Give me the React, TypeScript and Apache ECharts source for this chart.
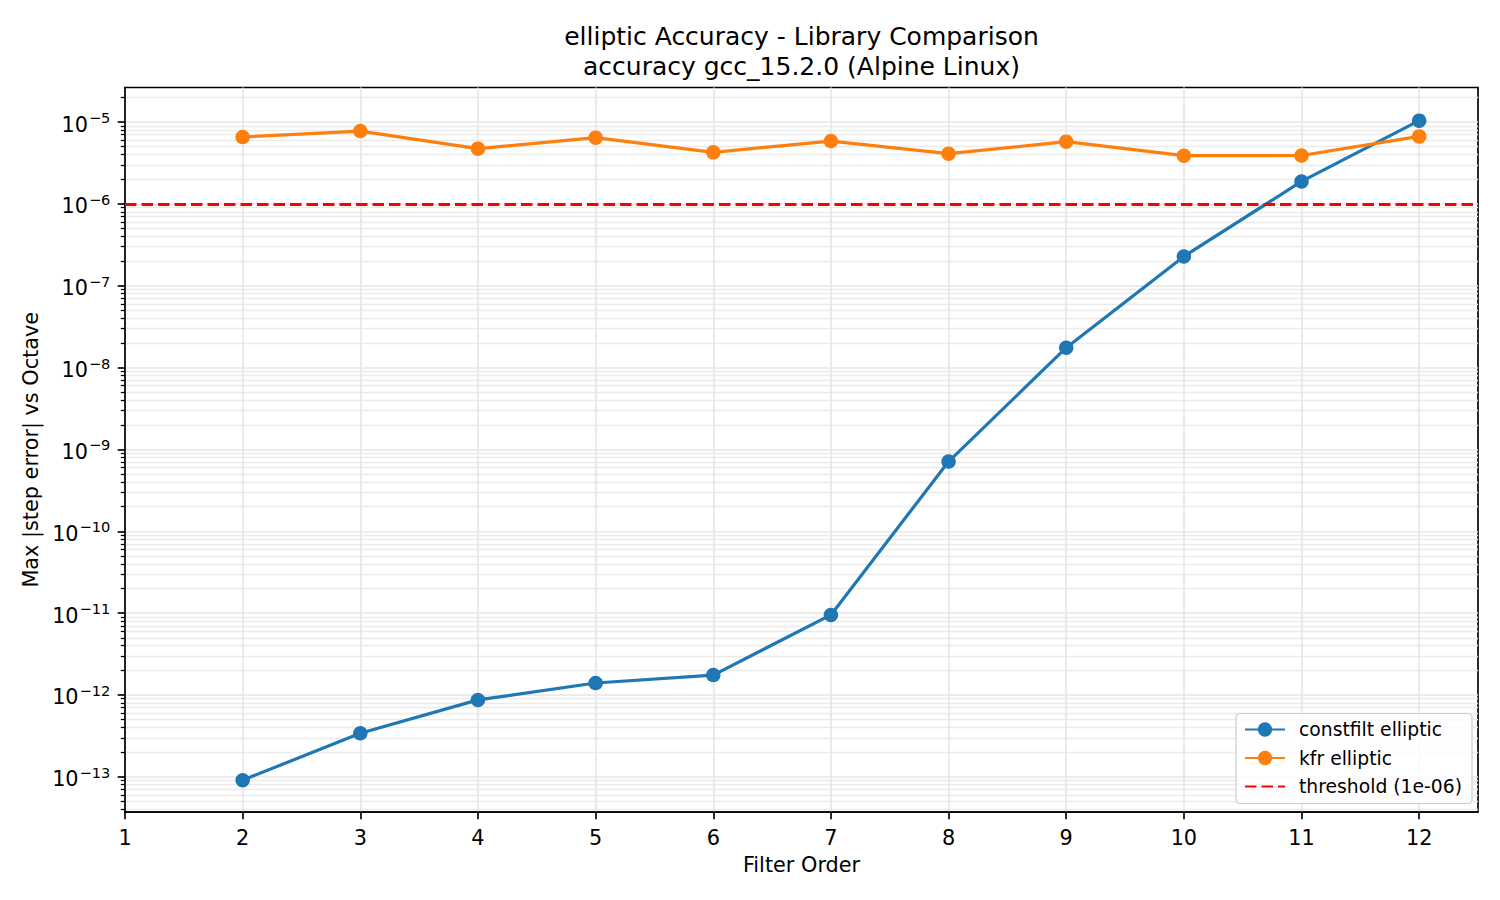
import React, { useEffect, useRef } from "react";
import * as echarts from "echarts";

// ---- data ----
const orders = [2, 3, 4, 5, 6, 7, 8, 9, 10, 11, 12];
const constfiltError = [
  9.1e-14, 3.4e-13, 8.7e-13, 1.4e-12, 1.75e-12, 9.5e-12, 7.1e-10, 1.75e-8,
  2.28e-7, 1.88e-6, 1.04e-5,
];
const kfrError = [
  6.56e-6, 7.76e-6, 4.73e-6, 6.45e-6, 4.26e-6, 5.86e-6, 4.11e-6, 5.76e-6,
  3.88e-6, 3.9e-6, 6.68e-6,
];
const threshold = 1e-6;

// ---- axis ticks ----
const xTicks = [1, 2, 3, 4, 5, 6, 7, 8, 9, 10, 11, 12];
const yDecades = [-13, -12, -11, -10, -9, -8, -7, -6, -5];
const minorDigits = [2, 3, 4, 5, 6, 7, 8, 9];
const minorDecades = [-14, -13, -12, -11, -10, -9, -8, -7, -6, -5];

const FONT = "DejaVu Sans";
const yMin = Math.pow(10, -13.43);
const yMax = Math.pow(10, -4.578);

const yMajor = yDecades.map((e) => Math.pow(10, e));
const yMinor: number[] = [];
minorDecades.forEach((e) =>
  minorDigits.forEach((d) => {
    const v = d * Math.pow(10, e);
    if (v > yMin && v < yMax) yMinor.push(v);
  })
);

const App: React.FC = () => {
  const chartRef = useRef<HTMLDivElement | null>(null);

  useEffect(() => {
    if (!chartRef.current) return;
    const chart = echarts.init(chartRef.current, undefined, { renderer: "svg" });

    const axisLine = { color: "#000000", width: 1.67 };
    const gridColor = "#e6e6e6";
    const dashed = { color: "#ff0000", width: 3.2, type: [11.5, 5] };

    const option: any = {
      animation: false,
      backgroundColor: "#ffffff",
      textStyle: { fontFamily: FONT },
      title: {
        text: "elliptic Accuracy - Library Comparison\naccuracy gcc_15.2.0 (Alpine Linux)",
        left: 801.5,
        top: 21,
        textAlign: "center",
        padding: 0,
        textStyle: {
          fontFamily: FONT,
          fontSize: 25,
          fontWeight: "normal",
          color: "#000000",
          lineHeight: 30,
        },
      },
      legend: {
        orient: "vertical",
        left: 1236,
        top: 713.5,
        padding: [6.5, 10, 7.5, 8],
        itemWidth: 40,
        itemHeight: 18,
        itemGap: 9.5,
        backgroundColor: "rgba(255,255,255,0.8)",
        borderColor: "#cccccc",
        borderWidth: 1.2,
        borderRadius: 4,
        textStyle: {
          fontFamily: FONT,
          fontSize: 18.75,
          color: "#000000",
          padding: [0, 0, 0, 9],
        },
        data: [
          { name: "constfilt elliptic" },
          { name: "kfr elliptic" },
          { name: "threshold (1e-06)", itemStyle: { opacity: 0 } },
        ],
      },
      grid: {
        left: 125,
        right: 22,
        top: 87.5,
        bottom: 88,
        show: true,
        borderColor: "#000000",
        borderWidth: 1.67,
        containLabel: false,
        outerBoundsMode: "none",
      },
      xAxis: {
        type: "value",
        min: 1,
        max: 12.5,
        interval: 1,
        name: "Filter Order",
        nameLocation: "middle",
        nameGap: 42.5,
        nameTextStyle: { fontFamily: FONT, fontSize: 20.8, color: "#000000" },
        axisLine: { onZero: false, lineStyle: axisLine },
        axisTick: { customValues: xTicks, length: 7.3, lineStyle: axisLine },
        axisLabel: {
          customValues: xTicks,
          margin: 15.5,
          fontFamily: FONT,
          fontSize: 20.8,
          color: "#000000",
        },
        splitLine: { show: true, lineStyle: { color: gridColor, width: 1.67 } },
      },
      yAxis: [
        {
          type: "log",
          logBase: 10,
          min: yMin,
          max: yMax,
          position: "left",
          name: "Max |step error| vs Octave",
          nameLocation: "middle",
          nameGap: 78.5,
          nameTextStyle: { fontFamily: FONT, fontSize: 20.8, color: "#000000" },
          axisLine: { show: true, onZero: false, lineStyle: axisLine },
          axisTick: { customValues: yMajor, length: 7.3, lineStyle: axisLine },
          axisLabel: {
            customValues: yMajor,
            margin: 14.6,
            formatter: (v: number) => {
              const e = Math.round(Math.log10(v));
              return `{b|10}{e|\u2212${-e}}`;
            },
            rich: {
              b: {
                fontFamily: FONT,
                fontSize: 20.8,
                color: "#000000",
                lineHeight: 26,
                verticalAlign: "bottom",
              },
              e: {
                fontFamily: FONT,
                fontSize: 14.6,
                color: "#000000",
                lineHeight: 16,
                verticalAlign: "top",
                padding: [1, 0, 0, 1],
              },
            },
          },
          splitLine: { show: true, lineStyle: { color: gridColor, width: 1.67 } },
        },
        {
          type: "log",
          logBase: 10,
          min: yMin,
          max: yMax,
          position: "left",
          axisLine: { show: false },
          axisLabel: { show: false },
          axisTick: {
            customValues: yMinor,
            length: 4.2,
            lineStyle: { color: "#000000", width: 1.25 },
          },
          splitLine: { show: true, lineStyle: { color: "#ebebeb", width: 1.4 } },
        },
      ],
      series: [
        {
          name: "constfilt elliptic",
          type: "line",
          yAxisIndex: 0,
          data: orders.map((x, i) => [x, constfiltError[i]]),
          symbol: "circle",
          symbolSize: 14.5,
          color: "#1f77b4",
          lineStyle: { color: "#1f77b4", width: 3.2 },
          itemStyle: { color: "#1f77b4" },
        },
        {
          name: "kfr elliptic",
          type: "line",
          yAxisIndex: 0,
          data: orders.map((x, i) => [x, kfrError[i]]),
          symbol: "circle",
          symbolSize: 14.5,
          color: "#ff7f0e",
          lineStyle: { color: "#ff7f0e", width: 3.2 },
          itemStyle: { color: "#ff7f0e" },
          // threshold drawn as a horizontal mark line across the plot
          // (precision must be high, default 2 rounds 1e-6 to 0)
          markLine: {
            silent: true,
            precision: 12,
            symbol: ["none", "none"],
            label: { show: false },
            lineStyle: dashed,
            emphasis: { disabled: true },
            data: [{ yAxis: threshold }],
          },
        },
        {
          // legend entry for the threshold line
          name: "threshold (1e-06)",
          type: "line",
          yAxisIndex: 0,
          data: [],
          symbol: "none",
          color: "#ff0000",
          lineStyle: dashed,
          itemStyle: { color: "rgba(0,0,0,0)" },
        },
      ],
    };

    chart.setOption(option);
    return () => {
      chart.dispose();
    };
  }, []);

  return (
    <div
      ref={chartRef}
      style={{ position: "absolute", left: 0, top: 0, width: "1500px", height: "900px" }}
    />
  );
};

export default App;
